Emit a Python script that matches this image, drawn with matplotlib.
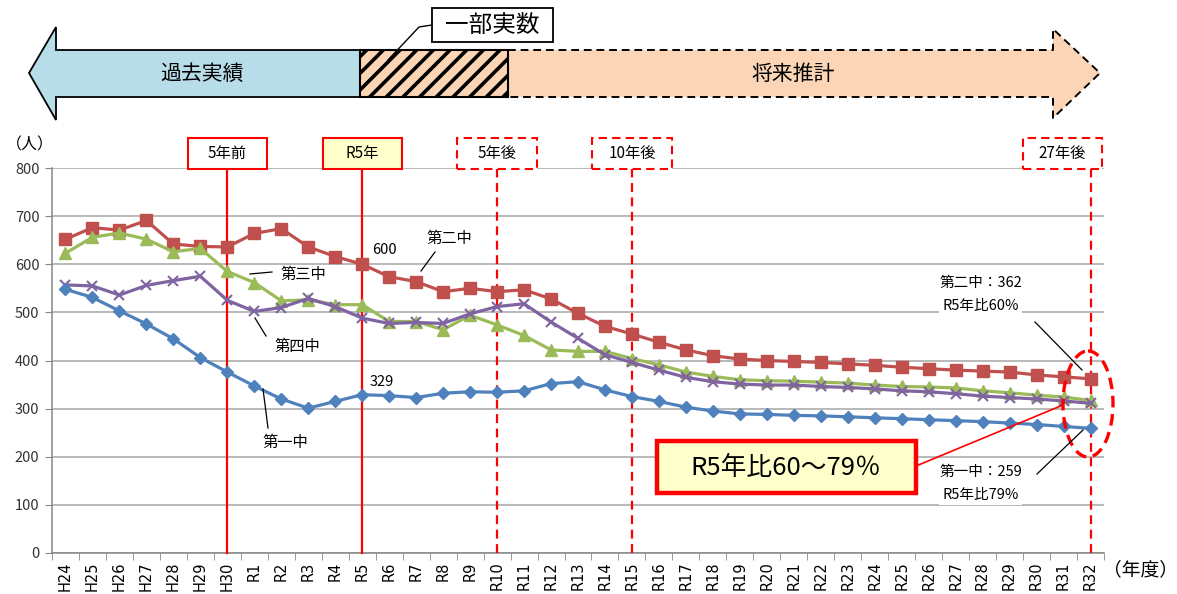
import numpy as np
import matplotlib
matplotlib.use("Agg")
import matplotlib.pyplot as plt
from matplotlib.patches import Rectangle, Polygon, Ellipse

plt.rcParams['font.family'] = ['Noto Sans CJK JP', 'DejaVu Sans']
plt.rcParams['hatch.linewidth'] = 2.6

# ---- data -----------------------------------------------------------------
years = ['H24', 'H25', 'H26', 'H27', 'H28', 'H29', 'H30'] + [f'R{i}' for i in range(1, 33)]

dai1 = [548, 531, 503, 476, 445, 406, 376,
        347, 320, 301, 315, 329, 327, 323, 332, 335, 334,
        337, 352, 356, 339, 325, 315, 303, 295, 289, 288,
        286, 285, 283, 281, 279, 277, 275, 273, 270, 267, 263, 259]
dai2 = [652, 676, 671, 691, 642, 637, 636,
        664, 674, 636, 616, 600, 574, 564, 543, 550, 543,
        547, 528, 498, 471, 455, 438, 422, 410, 403, 400,
        398, 396, 393, 390, 386, 383, 380, 378, 376, 370, 366, 362]
dai3 = [623, 656, 665, 652, 626, 633, 585,
        562, 524, 526, 516, 516, 481, 481, 464, 494, 474,
        452, 422, 419, 419, 404, 391, 376, 367, 360, 358,
        357, 355, 353, 349, 346, 345, 343, 337, 333, 328, 324, 317]
dai4 = [557, 555, 536, 556, 566, 575, 525,
        502, 510, 529, 512, 488, 477, 479, 477, 497, 512,
        518, 480, 446, 412, 396, 380, 365, 356, 351, 349,
        349, 346, 344, 341, 337, 335, 331, 326, 323, 320, 316, 311]

# reference years: (index into years, label, solid frame?, box centre offset)
markers_years = [(6, '5年前', True, 0.0), (11, 'R5年', True, 0.0),
                 (16, '5年後', False, 0.0), (21, '10年後', False, 0.0),
                 (38, '27年後', False, -1.05)]

W, H = 1177, 594
fig = plt.figure(figsize=(W / 100, H / 100), dpi=100)
ax = fig.add_axes([52 / W, 41 / H, (1104 - 52) / W, (553 - 168) / H])

x = np.arange(len(years))
ax.set_xlim(-0.5, len(years) - 0.5)
ax.set_ylim(0, 800)
ax.set_yticks(range(0, 801, 100))
ax.yaxis.grid(True, color='#A6A6A6', lw=1.1)
ax.set_axisbelow(True)
for s in ('top', 'right'):
    ax.spines[s].set_visible(False)
for s in ('left', 'bottom'):
    ax.spines[s].set_color('#868686')
    ax.spines[s].set_linewidth(1.1)
ax.set_xticks(x)
ax.set_xticklabels(years, rotation=90, fontsize=10.5, family=['DejaVu Sans'])
ax.set_xticks(np.arange(-0.5, len(years), 1), minor=True)
ax.tick_params(axis='x', which='major', length=0, pad=6)
ax.tick_params(axis='x', which='minor', length=5, color='#868686')
ax.tick_params(axis='y', length=5, color='#868686', labelsize=10.5,
               labelcolor='#333333', pad=4)

# ---- series ---------------------------------------------------------------
ax.plot(x, dai1, color='#4F81BD', lw=2.3, marker='D', ms=6, zorder=5)
ax.plot(x, dai2, color='#C0504D', lw=2.3, marker='s', ms=8, zorder=4)
ax.plot(x, dai3, color='#9BBB59', lw=2.3, marker='^', ms=8, zorder=4)
ax.plot(x, dai4, color='#8064A2', lw=2.3, marker='x', ms=7, mew=1.5, zorder=4)

# ---- reference-year lines and captions -------------------------------------
dash = (0, (4, 2.5))
for idx, label, solid, off in markers_years:
    ax.plot([idx, idx], [0, 797], color='red', lw=1.6,
            ls='-' if solid else dash, clip_on=False, zorder=3)
    c = idx + off
    fc = '#FFFFCC' if label == 'R5年' else 'white'
    ax.add_patch(Rectangle((c - 1.47, 797), 2.94, 66, fc=fc, ec='red', lw=1.5,
                           ls='-' if solid else dash, clip_on=False, zorder=6))
    ax.text(c, 830, label, ha='center', va='center', fontsize=11, zorder=7,
            clip_on=False)

# ---- value labels -----------------------------------------------------------
i_r5 = years.index('R5')
i_end = len(years) - 1
ax.annotate(f'{dai2[i_r5]}', xy=(i_r5, dai2[i_r5]), xytext=(22, 14),
            textcoords='offset pixels', ha='center', va='center', fontsize=10.5)
ax.annotate(f'{dai1[i_r5]}', xy=(i_r5, dai1[i_r5]), xytext=(20, 13),
            textcoords='offset pixels', ha='center', va='center', fontsize=10.5)

bb = dict(boxstyle='square,pad=0.2', fc='white', ec='none')
p2 = round(dai2[i_end] / dai2[i_r5] * 100)
p1 = round(dai1[i_end] / dai1[i_r5] * 100)
ax.annotate(f'第二中：{dai2[i_end]}', xy=(i_end, dai2[i_end]), xytext=(-110, 96),
            textcoords='offset pixels', ha='center', va='center', fontsize=10.5,
            bbox=bb, zorder=6)
ax.annotate(f'R5年比{p2}%', xy=(i_end, dai2[i_end]), xytext=(-110, 73),
            textcoords='offset pixels', ha='center', va='center', fontsize=10.5,
            bbox=bb, zorder=6)
ax.annotate(f'第一中：{dai1[i_end]}', xy=(i_end, dai1[i_end]), xytext=(-110, -44),
            textcoords='offset pixels', ha='center', va='center', fontsize=10.5,
            bbox=bb, zorder=6)
ax.annotate(f'R5年比{p1}%', xy=(i_end, dai1[i_end]), xytext=(-110, -67),
            textcoords='offset pixels', ha='center', va='center', fontsize=10.5,
            bbox=bb, zorder=6)

# ---- overlay in pixel coordinates ------------------------------------------
ov = fig.add_axes([0, 0, 1, 1], zorder=10)
ov.set_xlim(0, W)
ov.set_ylim(H, 0)
ov.axis('off')

def line(pts, **kw):
    xs, ys = zip(*pts)
    ov.plot(xs, ys, **kw)

# series name labels with leader lines
for txt, pos, lead in [('第三中', (303, 274), [(250, 274), (272, 272)]),
                       ('第二中', (449, 238), [(435, 252), (421, 271)]),
                       ('第四中', (297, 346), [(255, 318), (266, 336)]),
                       ('第一中', (285, 443), [(263, 389), (268, 428)])]:
    ov.text(*pos, txt, ha='center', va='center', fontsize=11)
    line(lead, color='black', lw=0.9)

line([(1035, 322), (1082, 370)], color='black', lw=0.9)
line([(1037, 474), (1083, 430)], color='black', lw=0.9)

# summary box and highlighted end points
ov.add_patch(Ellipse((1088, 404), 50, 106, fill=False, ec='red', lw=2.4,
                     ls=(0, (3.5, 2))))
line([(916, 466), (1063, 405)], color='red', lw=1.2)
ov.add_patch(Rectangle((657, 441), 259, 52, fc='#FFFFCC', ec='#FF0000', lw=3.2))
ov.text(786, 468, 'R5年比60～79％', ha='center', va='center', fontsize=18.5)

ov.text(30, 145, '（人）', ha='center', va='center', fontsize=11.5)
ov.text(1141, 570, '（年度）', ha='center', va='center', fontsize=13.5)

# banner: past results / partial actuals / projection
ov.add_patch(Polygon([(360, 50), (56, 50), (56, 27), (29, 73), (56, 120),
                      (56, 97), (360, 97)], closed=True, fc='#B7DEE8',
                     ec='black', lw=1.3))
ov.text(202, 74, '過去実績', ha='center', va='center', fontsize=15)

right = [(508, 50), (1053, 50), (1053, 29), (1100, 73), (1053, 118),
         (1053, 97), (508, 97)]
ov.add_patch(Polygon(right, closed=True, fc='#FBD5B5', ec='none'))
line(right, color='black', lw=1.4, ls=(0, (4, 2.5)))
ov.text(793, 74, '将来推計', ha='center', va='center', fontsize=15)

ov.add_patch(Rectangle((360, 50), 148, 47, fc='#FBD5B5', ec='black', lw=1.5,
                       hatch='//'))

line([(388, 60), (419, 27), (432, 25)], color='black', lw=1.0)
ov.add_patch(Rectangle((432, 8), 121, 34, fc='white', ec='black', lw=1.3))
ov.text(492.5, 25, '一部実数', ha='center', va='center', fontsize=17)

fig.savefig('out.png', dpi=100)
